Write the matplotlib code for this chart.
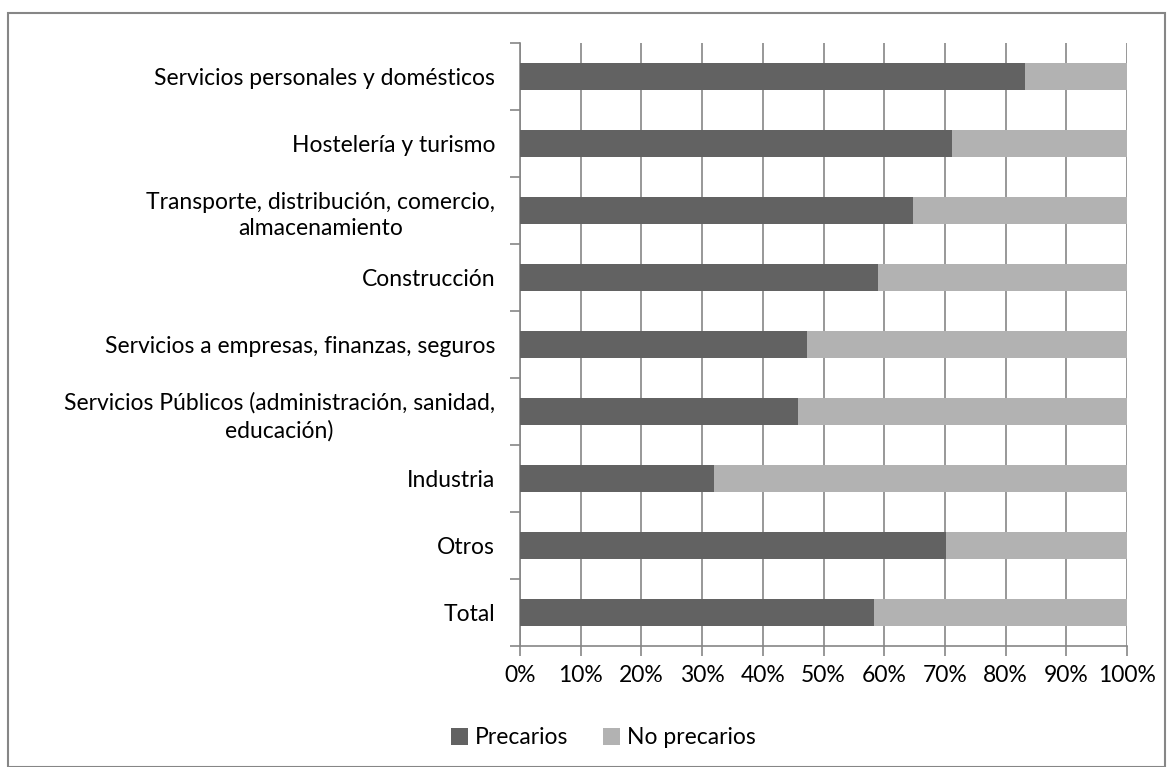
import matplotlib
matplotlib.use('Agg')
import matplotlib.pyplot as plt
from matplotlib.patches import Rectangle
from matplotlib.ticker import FixedLocator, PercentFormatter

categorias = ["Servicios personales y domésticos",
              "Hostelería y turismo",
              "Transporte, distribución, comercio,\nalmacenamiento",
              "Construcción",
              "Servicios a empresas, finanzas, seguros",
              "Servicios Públicos (administración, sanidad,\neducación)",
              "Industria",
              "Otros",
              "Total"]
precarios = [83.2, 71.1, 64.7, 59.0, 47.3, 45.8, 32.0, 70.1, 58.4]
no_precarios = [100 - v for v in precarios]

plt.rcParams['font.family'] = ['Lato', 'DejaVu Sans']

fig = plt.figure(figsize=(11.72, 7.67), dpi=100)
ax = fig.add_axes([0.4437, 0.1578, 0.5179, 0.7861])

y = list(range(len(categorias)))
ax.barh(y, precarios, height=0.4, color='#626262', label='Precarios', zorder=3)
ax.barh(y, no_precarios, left=precarios, height=0.4, color='#b2b2b2',
        label='No precarios', zorder=3)

ax.set_ylim(len(categorias) - 0.5, -0.5)
ax.set_xlim(0, 100)
ax.set_xticks(range(0, 101, 10))
ax.xaxis.set_major_formatter(PercentFormatter(decimals=0))
ax.set_yticks(y)
ax.set_yticklabels(categorias, multialignment='center', linespacing=1.35)
ax.yaxis.set_minor_locator(FixedLocator([i - 0.5 for i in range(len(categorias) + 1)]))

ax.tick_params(axis='y', which='major', length=0, pad=18, labelsize=16.5)
ax.tick_params(axis='y', which='minor', length=7, color='#868686', width=1.2)
ax.tick_params(axis='x', length=7, color='#868686', width=1.2, pad=7, labelsize=16.5)

ax.grid(axis='x', color='#868686', linewidth=1.2, zorder=0)
for s in ['top', 'right']:
    ax.spines[s].set_visible(False)
ax.spines['left'].set_color('#868686')
ax.spines['bottom'].set_color('#868686')
ax.spines['left'].set_linewidth(1.2)
ax.spines['bottom'].set_linewidth(1.2)

fig.legend(loc='center', bbox_to_anchor=(0.515, 0.038), ncol=2, frameon=False,
           fontsize=16.5, handlelength=0.75, handleheight=0.75, handletextpad=0.3,
           columnspacing=1.5)

fig.patches.append(Rectangle((8 / 1172, 0), 1157 / 1172, 1 - 13 / 767,
                             transform=fig.transFigure, fill=False,
                             edgecolor='#868686', linewidth=1.5))

plt.savefig('out.png')
